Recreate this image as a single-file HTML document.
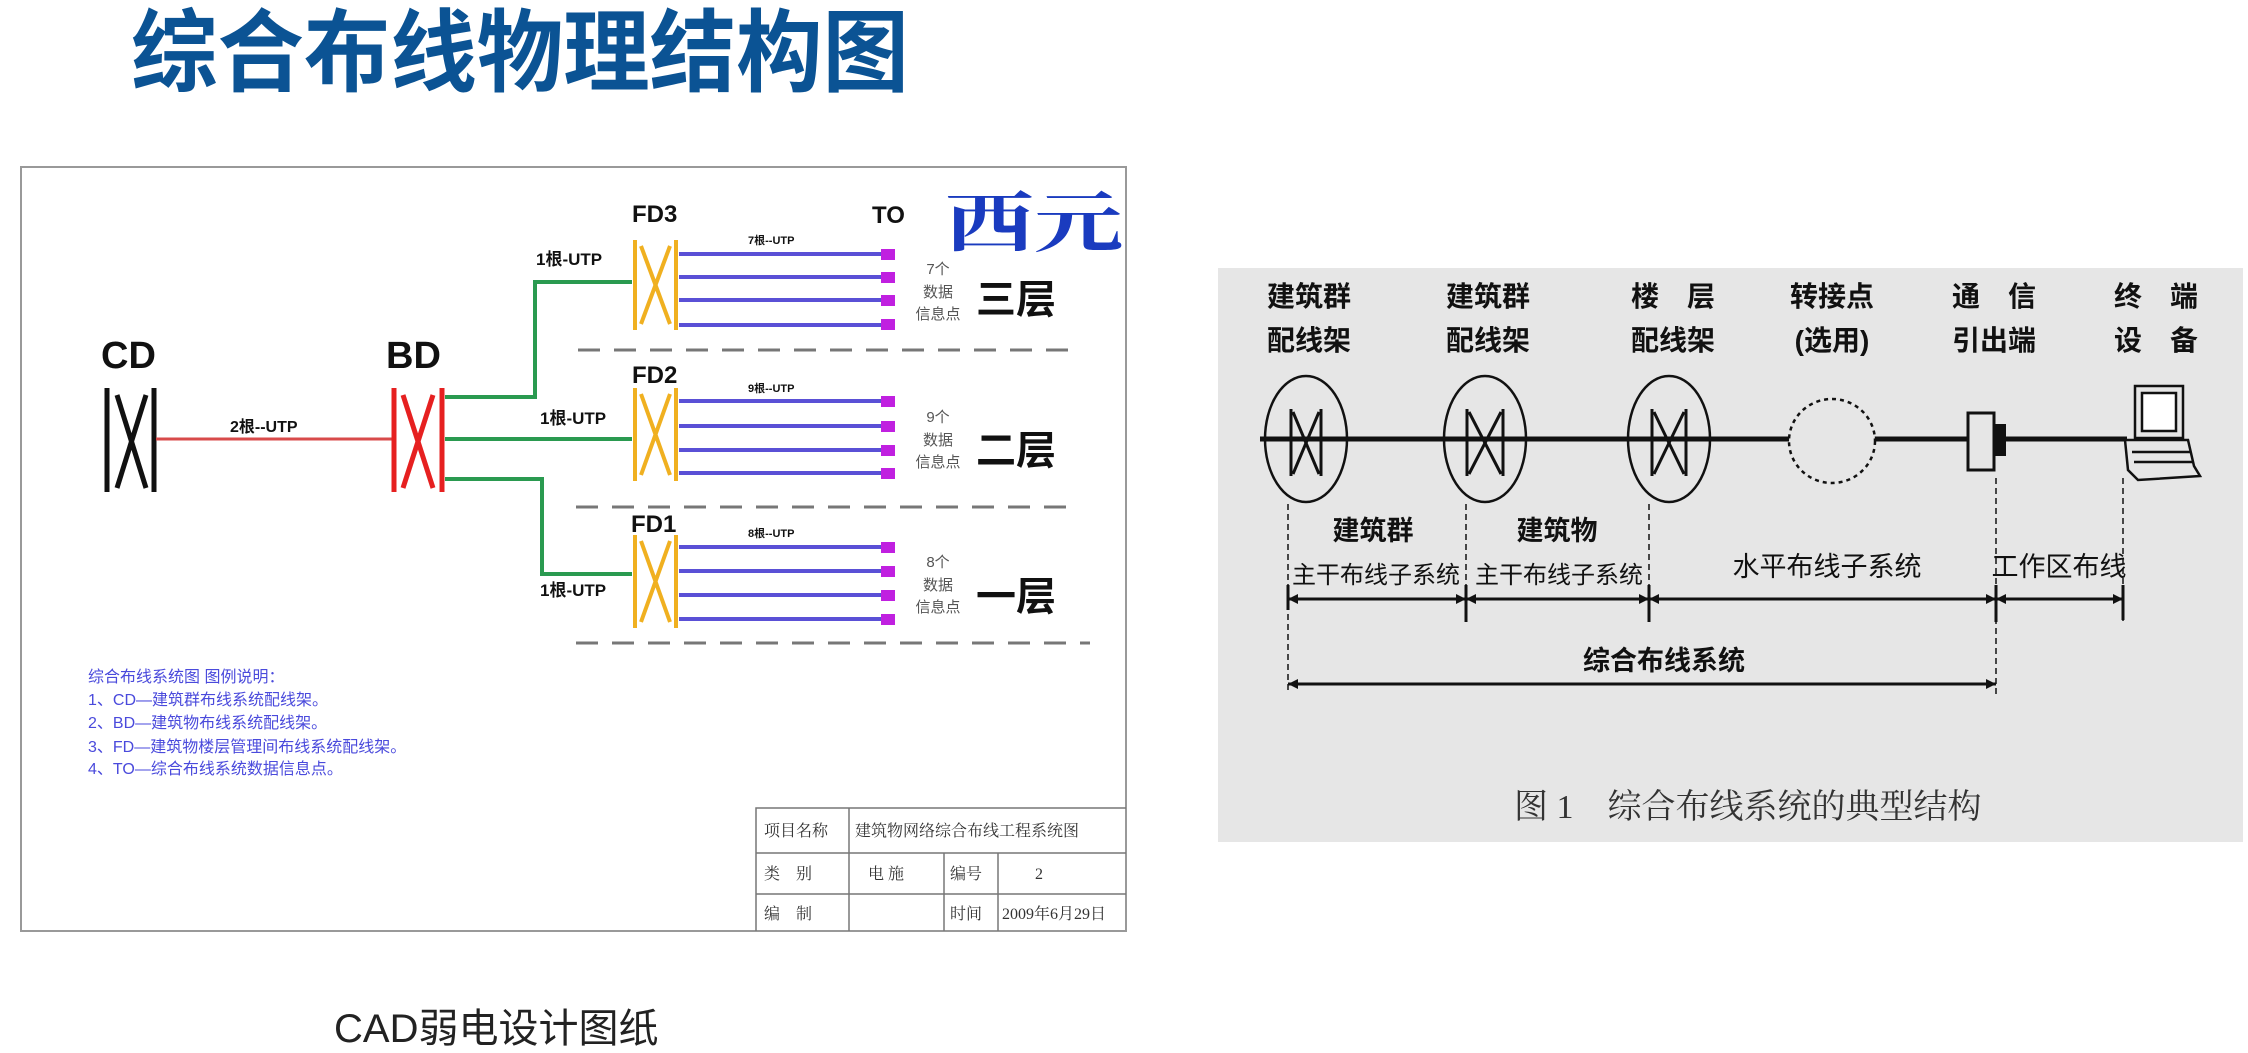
<!DOCTYPE html>
<html><head><meta charset="utf-8"><style>
html,body{margin:0;padding:0;background:#fff;width:2248px;height:1053px;overflow:hidden}
svg{display:block}
.s{font-family:"Liberation Sans","Noto Sans CJK SC",sans-serif}
.r{font-family:"Liberation Serif","Noto Serif CJK SC",serif}
</style></head><body>
<svg width="2248" height="1053" viewBox="0 0 2248 1053" xmlns="http://www.w3.org/2000/svg">
<text x="131" y="84" class="s" font-size="90" font-weight="bold" fill="#0b5394" textLength="778" lengthAdjust="spacingAndGlyphs">综合布线物理结构图</text>
<text x="334" y="1042" class="s" font-size="40" fill="#222">CAD弱电设计图纸</text>

<!-- LEFT PANEL -->
<rect x="21" y="167" width="1105" height="764" fill="#fff" stroke="#999" stroke-width="2"/>
<text x="945" y="246" class="r" font-size="66" font-weight="bold" fill="#1a3bbf" textLength="178" lengthAdjust="spacingAndGlyphs">西元</text>
<g class="s" font-weight="bold" fill="#111">
<text x="101" y="368" font-size="38">CD</text>
<text x="386" y="368" font-size="38">BD</text>
<text x="632" y="222" font-size="24">FD3</text>
<text x="632" y="383" font-size="24">FD2</text>
<text x="631" y="532" font-size="24">FD1</text>
<text x="872" y="223" font-size="24">TO</text>
<text x="230" y="432" font-size="16">2根--UTP</text>
<text x="536" y="265" font-size="17">1根-UTP</text>
<text x="540" y="424" font-size="17">1根-UTP</text>
<text x="540" y="596" font-size="17">1根-UTP</text>
<text x="748" y="244" font-size="11">7根--UTP</text>
<text x="748" y="392" font-size="11">9根--UTP</text>
<text x="748" y="537" font-size="11">8根--UTP</text>
<text x="976" y="313" font-size="40">三层</text>
<text x="976" y="464" font-size="40">二层</text>
<text x="976" y="610" font-size="40">一层</text>
</g>
<g class="s" font-size="15" fill="#555" text-anchor="middle">
<text x="938" y="274">7个</text><text x="938" y="297">数据</text><text x="938" y="319">信息点</text>
<text x="938" y="422">9个</text><text x="938" y="445">数据</text><text x="938" y="467">信息点</text>
<text x="938" y="567">8个</text><text x="938" y="590">数据</text><text x="938" y="612">信息点</text>
</g>
<g stroke="#111" stroke-width="5" fill="none">
<line x1="107" y1="388" x2="107" y2="492"/><line x1="154" y1="388" x2="154" y2="492"/>
<line x1="117" y1="395" x2="146" y2="488"/><line x1="146" y1="395" x2="117" y2="488"/>
</g>
<line x1="156" y1="439" x2="393" y2="439" stroke="#d84a4a" stroke-width="3"/>
<g stroke="#e62020" stroke-width="5" fill="none">
<line x1="394" y1="388" x2="394" y2="492"/><line x1="442" y1="388" x2="442" y2="492"/>
<line x1="403" y1="395" x2="433" y2="488"/><line x1="433" y1="395" x2="403" y2="488"/>
</g>
<g stroke="#2a9a50" stroke-width="4" fill="none">
<polyline points="445,397 535,397 535,282 632,282"/>
<line x1="445" y1="439" x2="632" y2="439"/>
<polyline points="445,479 542,479 542,574 632,574"/>
</g>
<g stroke="#f0b020" stroke-width="4" fill="none">
<line x1="635" y1="240" x2="635" y2="330"/><line x1="676" y1="240" x2="676" y2="330"/>
<line x1="641" y1="246" x2="670" y2="324"/><line x1="670" y1="246" x2="641" y2="324"/>
<line x1="635" y1="388" x2="635" y2="481"/><line x1="676" y1="388" x2="676" y2="481"/>
<line x1="641" y1="394" x2="670" y2="475"/><line x1="670" y1="394" x2="641" y2="475"/>
<line x1="635" y1="535" x2="635" y2="628"/><line x1="676" y1="535" x2="676" y2="628"/>
<line x1="641" y1="541" x2="670" y2="622"/><line x1="670" y1="541" x2="641" y2="622"/>
</g>
<g stroke="#5a50d6" stroke-width="4">
<line x1="679" y1="254" x2="882" y2="254"/><line x1="679" y1="277" x2="882" y2="277"/><line x1="679" y1="300" x2="882" y2="300"/><line x1="679" y1="325" x2="882" y2="325"/>
<line x1="679" y1="401" x2="882" y2="401"/><line x1="679" y1="426" x2="882" y2="426"/><line x1="679" y1="450" x2="882" y2="450"/><line x1="679" y1="473" x2="882" y2="473"/>
<line x1="679" y1="547" x2="882" y2="547"/><line x1="679" y1="571" x2="882" y2="571"/><line x1="679" y1="595" x2="882" y2="595"/><line x1="679" y1="619" x2="882" y2="619"/>
</g>
<g fill="#c020e0">
<rect x="881" y="249" width="14" height="11"/><rect x="881" y="272" width="14" height="11"/><rect x="881" y="295" width="14" height="11"/><rect x="881" y="319" width="14" height="11"/>
<rect x="881" y="396" width="14" height="11"/><rect x="881" y="421" width="14" height="11"/><rect x="881" y="445" width="14" height="11"/><rect x="881" y="468" width="14" height="11"/>
<rect x="881" y="542" width="14" height="11"/><rect x="881" y="566" width="14" height="11"/><rect x="881" y="590" width="14" height="11"/><rect x="881" y="614" width="14" height="11"/>
</g>
<g stroke="#777" stroke-width="3" stroke-dasharray="22,14">
<line x1="578" y1="350" x2="1080" y2="350"/><line x1="576" y1="507" x2="1080" y2="507"/><line x1="576" y1="643" x2="1090" y2="643"/>
</g>
<g class="s" font-size="16" fill="#4a4adc">
<text x="88" y="682">综合布线系统图 图例说明：</text>
<text x="88" y="705">1、CD—建筑群布线系统配线架。</text>
<text x="88" y="728">2、BD—建筑物布线系统配线架。</text>
<text x="88" y="752">3、FD—建筑物楼层管理间布线系统配线架。</text>
<text x="88" y="774">4、TO—综合布线系统数据信息点。</text>
</g>
<g stroke="#777" stroke-width="1.5" fill="none">
<polyline points="756,931 756,808 1126,808"/>
<line x1="756" y1="853" x2="1126" y2="853"/><line x1="756" y1="894" x2="1126" y2="894"/>
<line x1="849" y1="808" x2="849" y2="931"/><line x1="944" y1="853" x2="944" y2="931"/><line x1="998" y1="853" x2="998" y2="931"/>
</g>
<g class="r" font-size="16" fill="#333">
<text x="764" y="836">项目名称</text><text x="855" y="836">建筑物网络综合布线工程系统图</text>
<text x="764" y="879">类　别</text><text x="868" y="879">电 施</text><text x="950" y="879">编号</text><text x="1035" y="879">2</text>
<text x="764" y="919">编　制</text><text x="950" y="919">时间</text><text x="1002" y="919">2009年6月29日</text>
</g>

<!-- RIGHT PANEL -->
<rect x="1218" y="268" width="1025" height="574" fill="#e6e6e6"/>
<g class="s" font-size="28" font-weight="bold" fill="#111" text-anchor="middle">
<text x="1309" y="306">建筑群</text><text x="1309" y="350">配线架</text>
<text x="1488" y="306">建筑群</text><text x="1488" y="350">配线架</text>
<text x="1673" y="306">楼　层</text><text x="1673" y="350">配线架</text>
<text x="1832" y="306">转接点</text><text x="1832" y="350">(选用)</text>
<text x="1994" y="306">通　信</text><text x="1994" y="350">引出端</text>
<text x="2156" y="306">终　端</text><text x="2156" y="350">设　备</text>
</g>
<g stroke="#111" stroke-width="2.5" fill="#e6e6e6">
<ellipse cx="1306" cy="439" rx="41" ry="63"/>
<ellipse cx="1485" cy="439" rx="41" ry="63"/>
<ellipse cx="1669" cy="439" rx="41" ry="63"/>
</g>
<line x1="1260" y1="439" x2="2127" y2="439" stroke="#111" stroke-width="5"/>
<ellipse cx="1832" cy="441" rx="43" ry="42" fill="#e6e6e6" stroke="#111" stroke-width="2.5" stroke-dasharray="4,4"/>
<g stroke="#111" stroke-width="3" fill="none">
<line x1="1291" y1="409" x2="1291" y2="476"/><line x1="1321" y1="409" x2="1321" y2="476"/><line x1="1293" y1="412" x2="1319" y2="474"/><line x1="1319" y1="412" x2="1293" y2="474"/>
<line x1="1467" y1="409" x2="1467" y2="476"/><line x1="1503" y1="409" x2="1503" y2="476"/><line x1="1469" y1="412" x2="1501" y2="474"/><line x1="1501" y1="412" x2="1469" y2="474"/>
<line x1="1652" y1="409" x2="1652" y2="476"/><line x1="1686" y1="409" x2="1686" y2="476"/><line x1="1654" y1="412" x2="1684" y2="474"/><line x1="1684" y1="412" x2="1654" y2="474"/>
</g>
<rect x="1968" y="413" width="26" height="57" fill="#e6e6e6" stroke="#111" stroke-width="3"/>
<rect x="1994" y="424" width="12" height="32" fill="#111"/>
<g stroke="#111" stroke-width="2.5" fill="#e6e6e6">
<rect x="2135" y="386" width="48" height="52"/>
<rect x="2142" y="393" width="34" height="38" fill="#fff"/>
<polygon points="2125,440 2188,440 2194,466 2200,476 2138,480 2128,470"/>
<line x1="2132" y1="452" x2="2190" y2="452"/><line x1="2134" y1="462" x2="2194" y2="462"/>
</g>
<g stroke="#111" stroke-width="1.5" stroke-dasharray="6,4">
<line x1="1288" y1="504" x2="1288" y2="694"/>
<line x1="1466" y1="504" x2="1466" y2="622"/>
<line x1="1649" y1="504" x2="1649" y2="622"/>
<line x1="1996" y1="478" x2="1996" y2="694"/>
<line x1="2123" y1="478" x2="2123" y2="621"/>
</g>
<g stroke="#111" stroke-width="3">
<line x1="1288" y1="599" x2="2123" y2="599"/>
<line x1="1288" y1="684" x2="1996" y2="684"/>
<line x1="1288" y1="585" x2="1288" y2="610"/><line x1="1466" y1="585" x2="1466" y2="622"/><line x1="1649" y1="585" x2="1649" y2="622"/><line x1="1996" y1="585" x2="1996" y2="622"/><line x1="2123" y1="585" x2="2123" y2="620"/>
</g>
<g fill="#111">
<polygon points="1288,599 1298,594 1298,604"/><polygon points="1466,599 1456,594 1456,604"/><polygon points="1466,599 1476,594 1476,604"/>
<polygon points="1649,599 1639,594 1639,604"/><polygon points="1649,599 1659,594 1659,604"/><polygon points="1996,599 1986,594 1986,604"/>
<polygon points="1996,599 2006,594 2006,604"/><polygon points="2123,599 2113,594 2113,604"/>
<polygon points="1288,684 1298,679 1298,689"/><polygon points="1996,684 1986,679 1986,689"/>
</g>
<g class="s" font-size="27" fill="#111" text-anchor="middle">
<text x="1373" y="540" font-weight="bold">建筑群</text><text x="1376" y="583" font-size="24">主干布线子系统</text>
<text x="1557" y="540" font-weight="bold">建筑物</text><text x="1559" y="583" font-size="24">主干布线子系统</text>
<text x="1827" y="576">水平布线子系统</text>
<text x="2059" y="576">工作区布线</text>
<text x="1664" y="670" font-weight="bold">综合布线系统</text>
</g>
<text x="1514" y="818" class="r" font-size="34" fill="#333">图 1　综合布线系统的典型结构</text>
</svg>
</body></html>
